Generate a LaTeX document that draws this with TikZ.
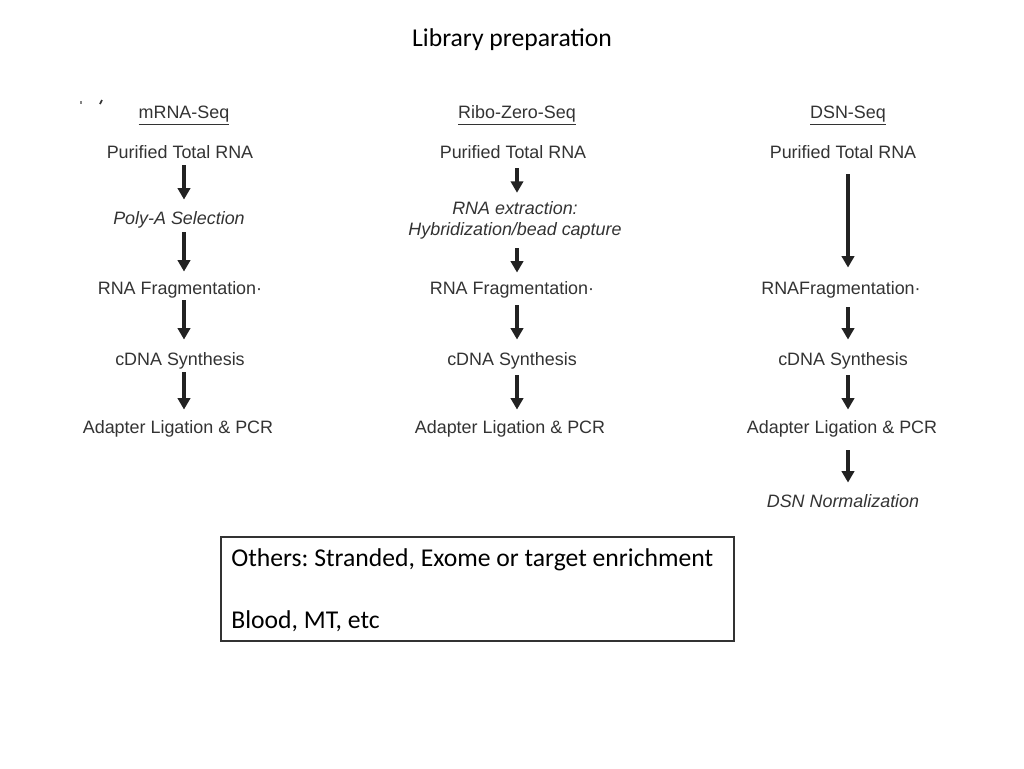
\documentclass[tikz,border=0pt]{standalone}
\usepackage{fontspec}
\setmainfont{Carlito}
\newfontfamily\arialfont{Liberation Sans}
\usepackage{tikz}
\usetikzlibrary{arrows.meta, positioning}
\definecolor{ink}{HTML}{333333}
\definecolor{arrowink}{HTML}{222222}
\frenchspacing

\begin{document}
\begin{tikzpicture}[x=0.02cm, y=-0.02cm,
		stepnode/.style={inner sep=0pt, text height=9.4pt, text depth=2.1pt, text=ink,
			font=\arialfont\fontsize{10.2}{12}\selectfont},
		headnode/.style={stepnode},
		boxtext/.style={inner sep=0pt, text height=11.3pt, text depth=2pt, anchor=west,
			font=\fontsize{14.6}{17}\selectfont},
		flow/.style 2 args={-{Triangle[width=7pt, length=6.5pt]}, line width=2pt, draw=arrowink,
			shorten <=#1*0.02cm, shorten >=#2*0.02cm}
		]
	\fill[white] (0,0) rectangle (1024,768);
	\useasboundingbox (0,0) rectangle (1024,768);

	% titre
	\node[boxtext, anchor=center] (title) at (512,38) {Library preparation};

	% marques
	\draw[ink!60, line width=0.6pt] (81,101) -- (81,104);
	\draw[ink, line width=1pt] (100,104) -- (102,100);

	% Colonne mRNA-Seq
	\node[headnode] (mh) at (184,112) {\underline{mRNA-Seq}};
	\node[stepnode] (m1) at (180,152) {Purified Total RNA};
	\node[stepnode, font=\arialfont\itshape\fontsize{10.2}{12}\selectfont] (m2) at (179,218) {Poly-A Selection};
	\node[stepnode] (m3) at (180,288) {RNA Fragmentation·};
	\node[stepnode] (m4) at (180,359) {cDNA Synthesis};
	\node[stepnode] (m5) at (178,427) {Adapter Ligation \& PCR};

	\draw[flow={3}{8}] (m1.south -| mh.center) -- (m2.north -| mh.center);
	\draw[flow={4}{6}] (m2.south -| mh.center) -- (m3.north -| mh.center);
	\draw[flow={2}{9}] (m3.south -| mh.center) -- (m4.north -| mh.center);
	\draw[flow={3}{7}] (m4.south -| mh.center) -- (m5.north -| mh.center);

	% Colonne Ribo-Zero-Seq
	\node[headnode] (rh) at (517,112) {\underline{Ribo-Zero-Seq}};
	\node[stepnode] (r1) at (513,152) {Purified Total RNA};
	\node[inner sep=0pt, align=center, text=ink,
		font=\arialfont\itshape\fontsize{10.2}{11.9}\selectfont] (r2) at (515,220.4)
		{RNA extraction:\\Hybridization/bead capture};
	\node[stepnode] (r3) at (512,288) {RNA Fragmentation·};
	\node[stepnode] (r4) at (512,359) {cDNA Synthesis};
	\node[stepnode] (r5) at (510,427) {Adapter Ligation \& PCR};

	\draw[flow={6}{8.5}] (r1.south -| rh.center) -- (r2.north -| rh.center);
	\draw[flow={8.7}{5}] (r2.south -| rh.center) -- (r3.north -| rh.center);
	\draw[flow={7}{9}] (r3.south -| rh.center) -- (r4.north -| rh.center);
	\draw[flow={6}{7}] (r4.south -| rh.center) -- (r5.north -| rh.center);

	% Colonne DSN-Seq
	\node[headnode] (dh) at (848,112) {\underline{DSN-Seq}};
	\node[stepnode] (d1) at (843,152) {Purified Total RNA};
	\node[stepnode] (d2) at (841,288) {RNAFragmentation·};
	\node[stepnode] (d3) at (843,359) {cDNA Synthesis};
	\node[stepnode] (d4) at (842,427) {Adapter Ligation \& PCR};
	\node[stepnode, font=\arialfont\itshape\fontsize{10.2}{12}\selectfont] (d5) at (843,501) {DSN Normalization};

	\draw[flow={12}{10}] (d1.south -| dh.center) -- (d2.north -| dh.center);
	\draw[flow={9}{9}] (d2.south -| dh.center) -- (d3.north -| dh.center);
	\draw[flow={6}{7}] (d3.south -| dh.center) -- (d4.north -| dh.center);
	\draw[flow={13}{8}] (d4.south -| dh.center) -- (d5.north -| dh.center);

	% Encadré
	\node[draw=ink, line width=0.7pt, inner sep=0pt, minimum width=10.26cm, minimum height=2.08cm] (others) at (477.5,589) {};
	\node[boxtext] (oth1) at (231,558) {Others: Stranded, Exome or target enrichment};
	\node[boxtext] (oth2) at (231,620) {Blood, MT, etc};
\end{tikzpicture}
\end{document}
